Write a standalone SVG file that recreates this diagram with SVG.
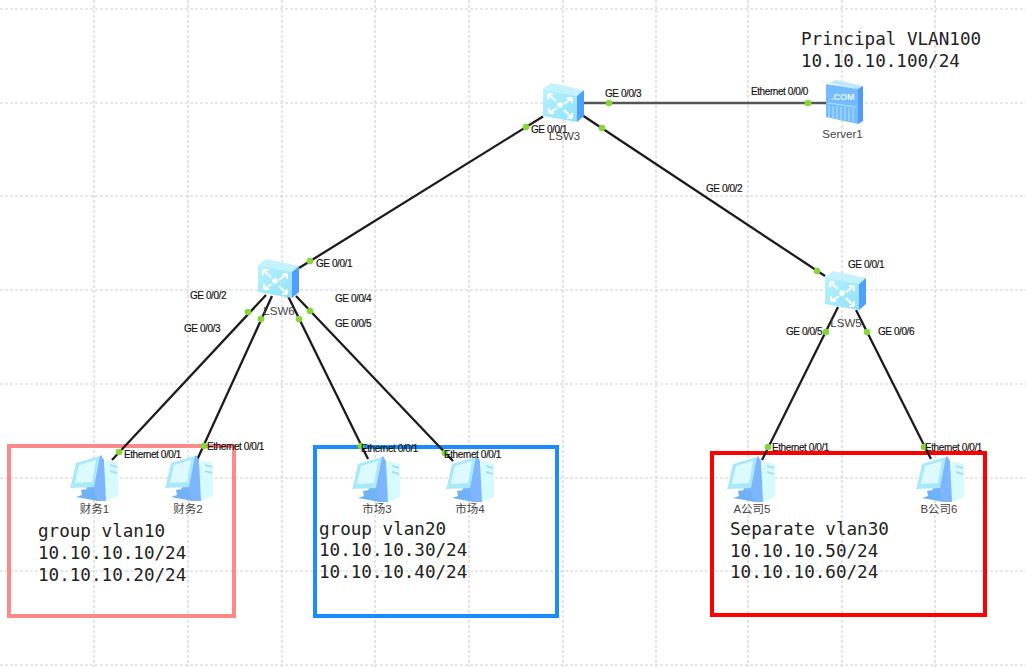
<svg xmlns="http://www.w3.org/2000/svg" width="1026" height="667" viewBox="0 0 1026 667">
<style>
.grid{stroke:#d2d2d2;stroke-width:1.2;stroke-dasharray:3 2;fill:none}
.link{stroke:#1c1c1c;stroke-width:2.3;fill:none}
.dot{fill:#86d63a}
.port{font-family:"Liberation Sans",Arial,sans-serif;font-size:10px;letter-spacing:-.42px;fill:#111;stroke:#111;stroke-width:.15px}
.name{font-family:"Liberation Sans","Noto Sans CJK SC",sans-serif;font-size:11.5px;fill:#444;text-anchor:middle}
.note{font-family:"DejaVu Sans Mono",monospace;font-size:17.6px;fill:#222}
.frame{fill:none;stroke-width:4}
</style>
<defs>
<linearGradient id="swf" x1="0" y1="0" x2="1" y2="1"><stop offset="0" stop-color="#b8f2ff"/><stop offset="1" stop-color="#8fe2fb"/></linearGradient>
<g id="sw">
<polygon points="0,6 8,0 41,7 34,13" fill="#c4f3ff"/>
<polygon points="0,6 34,13 34,39 0,33" fill="url(#swf)"/>
<polygon points="34,13 41,7 41,33 34,39" fill="#4f9fff"/>
<g stroke="#fff" stroke-width="2" fill="none">
<path d="M5,11 L13,18 M5,11 h5 M5,11 v5"/>
<path d="M29,15 L21,21 M29,15 h-5 M29,15 v5"/>
<path d="M6,30 L14,25 M6,30 h5 M6,30 v-5"/>
<path d="M29,35 L21,27 M29,35 h-5 M29,35 v-5"/>
</g>
<circle cx="17" cy="22" r="2.8" fill="#fff"/>
</g>
<g id="pc">
<polygon points="36,5 48,8 48,41 36,46 28,46" fill="#d6fbff"/>
<polygon points="24,8 31,0 34,5 36,46 28,46 14,42" fill="#7db6ff"/>
<polygon points="40,9 47,11 47,13 40,11" fill="#a8dcf5"/>
<polygon points="40,15 47,17 47,19 40,17" fill="#a8dcf5"/>
<polygon points="6,8 30,1 24,32 0,33 1,30" fill="#a9e9fb"/>
<polygon points="9,10 26,5 22,27 5,28" fill="#dcfaff"/>
<polygon points="11,35 24,33 25,41 28,46 6,42 12,40" fill="#6fb2f5"/>
</g>
<g id="srv">
<polygon points="3,3 10,0 37,6 36,10" fill="#b9e8ff"/>
<polygon points="0,4 32,9 32,44 0,37" fill="#74bcff"/>
<polygon points="32,9 37,6 37,41 32,44" fill="#4f9bf5"/>
<text x="5" y="20" font-family="Liberation Sans,sans-serif" font-size="9" font-weight="700" fill="#e6f8ff">.COM</text>
<g stroke="#b5e2ff" stroke-width="1" fill="none">
<path d="M3,25 v12 M7,26 v12 M11,26 v13 M15,27 v13 M19,27 v13 M23,28 v13 M27,28 v14"/>
<path d="M2,23 L30,27"/>
</g>
</g>
</defs>
<rect width="1026" height="667" fill="#fff"/>
<g id="grid" class="grid">
<path d="M0,9H1026M0,103H1026M0,196H1026M0,290H1026M0,384H1026M0,478H1026M0,571H1026M0,665H1026"/>
<path d="M94,0V667M188,0V667M282,0V667M375,0V667M469,0V667M563,0V667M656,0V667M748,0V667M842,0V667M935,0V667"/>
</g>
<g id="frames">
<rect id="frame-vlan10" class="frame" x="9" y="446" width="225" height="170" stroke="#ff8888"/>
<rect id="frame-vlan20" class="frame" x="315" y="447" width="242" height="169" stroke="#1a8cff"/>
<rect id="frame-vlan30" class="frame" x="712" y="453" width="273" height="162" stroke="#ff0000"/>
</g>
<g id="connectors">
<path class="link" d="M543,116.500L299,268"/>
<path class="link" d="M582,115L825,276"/>
<path class="link" d="M583,103H826" style="stroke:#555"/>
<path class="link" d="M266,295L112,460"/>
<path class="link" d="M272,296L197,460"/>
<path class="link" d="M288,296L368,459"/>
<path class="link" d="M296,296L453,461"/>
<path class="link" d="M838,307L762,460"/>
<path class="link" d="M856,310L931,459"/>
</g>
<g id="node-LSW3"><use href="#sw" x="543" y="83"/><text class="name" x="564.500" y="140">LSW3</text></g>
<g id="node-LSW6"><use href="#sw" x="258" y="259"/><text class="name" x="279" y="315">LSW6</text></g>
<g id="node-LSW5"><use href="#sw" x="825" y="271"/><text class="name" x="846" y="327">LSW5</text></g>
<g id="node-Server1"><use href="#srv" x="826" y="80"/><text class="name" x="842.500" y="138">Server1</text></g>
<g id="node-pc1"><use href="#pc" x="70" y="455"/><text class="name" x="94.500" y="513">财务1</text></g>
<g id="node-pc2"><use href="#pc" x="165" y="455"/><text class="name" x="188" y="513">财务2</text></g>
<g id="node-pc3"><use href="#pc" x="352" y="456"/><text class="name" x="377" y="513">市场3</text></g>
<g id="node-pc4"><use href="#pc" x="446" y="456"/><text class="name" x="470" y="513">市场4</text></g>
<g id="node-pc5"><use href="#pc" x="727" y="456"/><text class="name" x="752" y="513">A公司5</text></g>
<g id="node-pc6"><use href="#pc" x="916" y="456"/><text class="name" x="939" y="513">B公司6</text></g>
<g id="ports">
<circle class="dot" cx="526" cy="127" r="3.300"/><circle class="dot" cx="310" cy="261" r="3.300"/>
<circle class="dot" cx="602" cy="128" r="3.300"/><circle class="dot" cx="817" cy="271" r="3.300"/>
<circle class="dot" cx="609" cy="103" r="3.300"/><circle class="dot" cx="808" cy="103" r="3.300"/>
<circle class="dot" cx="248" cy="312" r="3.300"/><circle class="dot" cx="119" cy="452" r="3.300"/>
<circle class="dot" cx="261" cy="319" r="3.300"/><circle class="dot" cx="204" cy="446" r="3.300"/>
<circle class="dot" cx="299" cy="319" r="3.300"/><circle class="dot" cx="361" cy="446" r="3.300"/>
<circle class="dot" cx="310" cy="311" r="3.300"/><circle class="dot" cx="445" cy="453" r="3.300"/>
<circle class="dot" cx="826" cy="332" r="3.300"/><circle class="dot" cx="768" cy="447" r="3.300"/>
<circle class="dot" cx="867" cy="332" r="3.300"/><circle class="dot" cx="924" cy="447" r="3.300"/>
<text class="port" x="605" y="97">GE 0/0/3</text>
<text class="port" x="751" y="95">Ethernet 0/0/0</text>
<text class="port" x="531" y="133">GE 0/0/1</text>
<text class="port" x="706" y="192">GE 0/0/2</text>
<text class="port" x="316" y="267">GE 0/0/1</text>
<text class="port" x="190" y="299">GE 0/0/2</text>
<text class="port" x="184" y="332">GE 0/0/3</text>
<text class="port" x="335" y="302">GE 0/0/4</text>
<text class="port" x="335" y="327">GE 0/0/5</text>
<text class="port" x="848" y="268">GE 0/0/1</text>
<text class="port" x="786" y="335">GE 0/0/5</text>
<text class="port" x="878" y="335">GE 0/0/6</text>
<text class="port" x="124" y="458">Ethernet 0/0/1</text>
<text class="port" x="207" y="450">Ethernet 0/0/1</text>
<text class="port" x="361" y="452">Ethernet 0/0/1</text>
<text class="port" x="444" y="458">Ethernet 0/0/1</text>
<text class="port" x="772" y="451">Ethernet 0/0/1</text>
<text class="port" x="925" y="451">Ethernet 0/0/1</text>
</g>
<g id="notes">
<text class="note" x="801" y="45">Principal VLAN100</text>
<text class="note" x="801" y="67">10.10.10.100/24</text>
<text class="note" x="38" y="537">group vlan10</text>
<text class="note" x="38" y="559">10.10.10.10/24</text>
<text class="note" x="38" y="581">10.10.10.20/24</text>
<text class="note" x="319" y="535">group vlan20</text>
<text class="note" x="319" y="556">10.10.10.30/24</text>
<text class="note" x="319" y="578">10.10.10.40/24</text>
<text class="note" x="730" y="535">Separate vlan30</text>
<text class="note" x="730" y="557">10.10.10.50/24</text>
<text class="note" x="730" y="578">10.10.10.60/24</text>
</g>
</svg>
